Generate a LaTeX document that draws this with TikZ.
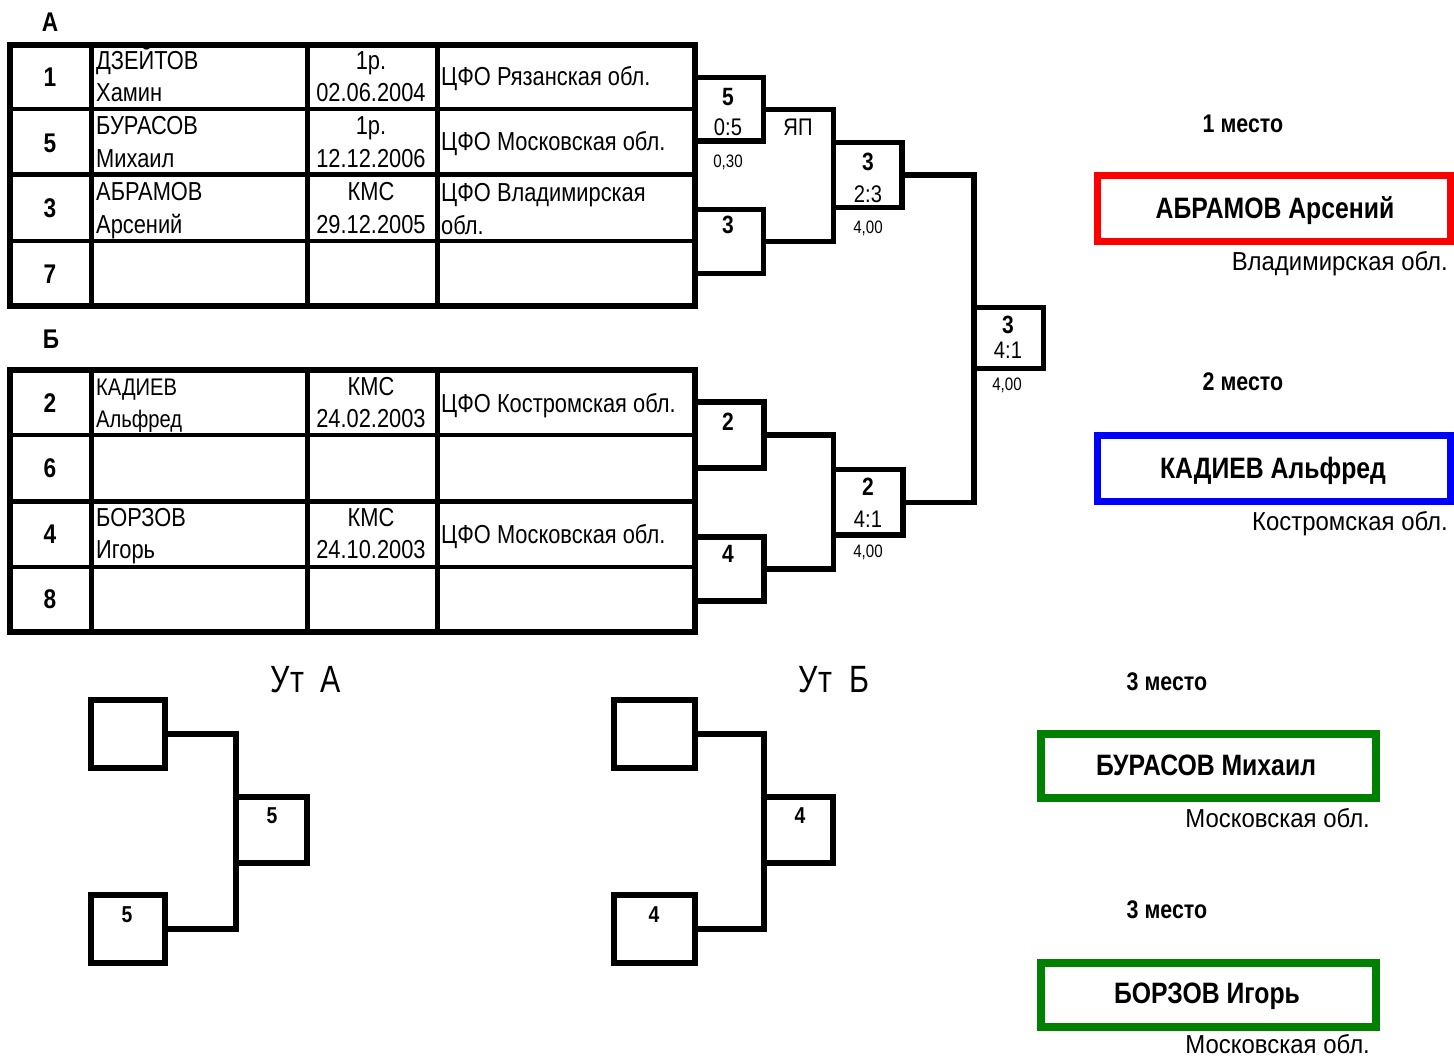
\documentclass[tikz,border=0pt]{standalone}
\usepackage{fontspec}
\setmainfont[FakeStretch=0.84]{Liberation Sans}
\newfontfamily\regfont[FakeStretch=0.92]{Liberation Sans}
\newfontfamily\utfont[FakeStretch=0.8]{Liberation Sans}
\newcommand\myfs[1]{\fontsize{#1}{#1}\selectfont}
\newcommand\bx[6][]{\node[bxs,#1,anchor=north west,minimum width={(#5)-(#3)},minimum height={(#6)-(#4)}] (#2) at (#3,#4) {};}
\definecolor{mygreen}{RGB}{0,128,0}
\begin{document}
\begin{tikzpicture}[x=1pt,y=-1pt,
  bxs/.style={draw,line width=5.5pt,inner sep=0,outer sep=0},
  con/.style={draw,line width=5.5pt,line cap=rect},
  tout/.style={line width=6pt,line join=miter},
  tin/.style={line width=5pt},
  thin/.style={line width=4pt},
  t/.style={inner sep=0,font=\myfs{26}},
  tl/.style={t,anchor=base west},
  tc/.style={t,anchor=base},
  tn/.style={inner sep=0,anchor=base,font=\bfseries\myfs{27}},
  bn/.style={inner sep=0,anchor=base,font=\bfseries\myfs{25}},
  sc/.style={inner sep=0,anchor=base,font=\myfs{24}},
  sm/.style={inner sep=0,anchor=base,font=\myfs{18}},
  pl/.style={inner sep=0,anchor=base,font=\bfseries\myfs{23}},
  plc/.style={inner sep=0,anchor=base,font=\bfseries\myfs{25.5}},
  win/.style={inner sep=0,anchor=base,font=\bfseries\myfs{29.5}},
  reg/.style={inner sep=0,anchor=base east,font=\regfont\myfs{26}},
  ut/.style={inner sep=0,anchor=base,font=\utfont\myfs{38}}
]
\useasboundingbox (0,0) rectangle (1454,1057);

% ---------- Group A table ----------
\node[inner sep=0,anchor=base,font=\bfseries\myfs{27}] (lblA) at (50,32) {А};
\draw[tout] (10,45) rectangle (694.5,305.5);
\foreach \xx in {91.5,307,437} \draw[tin] (\xx,45) -- (\xx,305.5);
\draw[thin] (10,108.5) -- (694.5,108.5);
\draw[tin] (10,174.5) -- (694.5,174.5);
\draw[thin] (10,240.5) -- (694.5,240.5);

\node[tn] (an1) at (50,87) {1};
\node[tl] (aname1) at (96,70) {ДЗЕЙТОВ};
\node[tl] (afirst1) at (96,102) {Хамин};
\node[tc] (arank1) at (371,70) {1р.};
\node[tc] (adate1) at (371,102) {02.06.2004};
\node[tl] (areg1) at (441,85) {ЦФО Рязанская обл.};

\node[tn] (an2) at (50,152) {5};
\node[tl] (aname2) at (96,134) {БУРАСОВ};
\node[tl] (afirst2) at (96,167) {Михаил};
\node[tc] (arank2) at (371,134) {1р.};
\node[tc] (adate2) at (371,167) {12.12.2006};
\node[tl] (areg2) at (441,150) {ЦФО Московская обл.};

\node[tn] (an3) at (50,217) {3};
\node[tl] (aname3) at (96,200) {АБРАМОВ};
\node[tl] (afirst3) at (96,233) {Арсений};
\node[tc] (arank3) at (371,200) {КМС};
\node[tc] (adate3) at (371,233) {29.12.2005};
\node[tl] (areg3) at (441,201) {ЦФО Владимирская};
\node[tl] (areg3b) at (441,234) {обл.};

\node[tn] (an4) at (50,283) {7};

% ---------- Group B table ----------
\node[inner sep=0,anchor=base,font=\bfseries\myfs{27}] (lblB) at (51,348) {Б};
\draw[tout] (10,369.5) rectangle (694.5,632);
\foreach \xx in {91.5,307,437} \draw[tin] (\xx,369.5) -- (\xx,632);
\draw[thin] (10,435) -- (694.5,435);
\draw[tin] (10,501.5) -- (694.5,501.5);
\draw[thin] (10,567) -- (694.5,567);

\node[tn] (bn1) at (50,412) {2};
\node[tl,font=\myfs{24}] (bname1) at (96,395) {КАДИЕВ};
\node[tl,font=\myfs{24}] (bfirst1) at (96,427) {Альфред};
\node[tc] (brank1) at (371,395) {КМС};
\node[tc] (bdate1) at (371,427) {24.02.2003};
\node[tl] (breg1) at (441,412) {ЦФО Костромская обл.};

\node[tn] (bn2) at (50,477) {6};

\node[tn] (bn3) at (50,543) {4};
\node[tl] (bname3) at (96,526) {БОРЗОВ};
\node[tl] (bfirst3) at (96,558) {Игорь};
\node[tc] (brank3) at (371,526) {КМС};
\node[tc] (bdate3) at (371,558) {24.10.2003};
\node[tl] (breg3) at (441,543) {ЦФО Московская обл.};

\node[tn] (bn4) at (50,608) {8};

% ---------- bracket A ----------
\bx{a1}{694.5}{77.5}{763.5}{141}
\bx{a2}{694.5}{209.5}{763.5}{273.5}
\bx{ar}{833.5}{142.5}{902}{207.5}
\draw[con] (a1.east) -- (a1.east -| ar.west) -- (a2.east -| ar.west) -- (a2.east);
\node[bn] (a1w) at (728,105) {5};
\node[sc] (a1s) at (728,135) {0:5};
\node[sm] (a1t) at (728,167) {0,30};
\node[sc] (a1y) at (798,135) {ЯП};
\node[bn] (a2w) at (728,233) {3};
\node[bn] (arw) at (868,170) {3};
\node[sc] (ars) at (868,202) {2:3};
\node[sm] (art) at (868,233) {4,00};

% ---------- bracket B ----------
\bx{b1}{694.5}{402}{764}{468}
\bx{b2}{694.5}{537}{764}{601}
\bx{br}{833.5}{469.5}{903}{535}
\draw[con] (b1.east) -- (b1.east -| br.west) -- (b2.east -| br.west) -- (b2.east);
\node[bn] (b1w) at (728,430) {2};
\node[bn] (b2w) at (728,562) {4};
\node[bn] (brw) at (868,495) {2};
\node[sc] (brs) at (868,527) {4:1};
\node[sm] (brt) at (868,557) {4,00};

% ---------- final ----------
\bx{fin}{974}{307.5}{1043.5}{368.5}
\draw[con] (ar.east) -- (ar.east -| fin.west) -- (br.east -| fin.west) -- (br.east);
\node[bn] (finw) at (1008,333) {3};
\node[sc] (fins) at (1008,358) {4:1};
\node[sm] (fint) at (1007,390) {4,00};

% ---------- repechage ----------
\node[ut] (utA) at (306,692) {Ут\ \ А};
\bx{la}{91}{700}{165}{768}
\bx{lb}{91}{895}{165}{963}
\bx{lm}{236}{797}{307}{863}
\draw[con] (la.east) -- (la.east -| lm.west) -- (lb.east -| lm.west) -- (lb.east);
\node[pl] (lmw) at (272,823) {5};
\node[pl] (lbw) at (127,922) {5};

\node[ut] (utB) at (834,692) {Ут\ \ Б};
\bx{ra}{614}{700}{695}{768}
\bx{rb}{614}{895}{695}{963}
\bx{rm}{764}{797}{833}{863}
\draw[con] (ra.east) -- (ra.east -| rm.west) -- (rb.east -| rm.west) -- (rb.east);
\node[pl] (rmw) at (800,823) {4};
\node[pl] (rbw) at (654,922) {4};

% ---------- places ----------
\node[plc] (p1) at (1243,132) {1 место};
\bx[draw=red,line width=7pt]{w1}{1097.5}{175.5}{1450.5}{241.5}
\node[win] (w1n) at (1275,218) {АБРАМОВ Арсений};
\node[reg] (w1r) at (1448,270) {Владимирская обл.};

\node[plc] (p2) at (1243,390) {2 место};
\bx[draw=blue,line width=7pt]{w2}{1097.5}{435.5}{1450.5}{501.5}
\node[win] (w2n) at (1273,478) {КАДИЕВ Альфред};
\node[reg] (w2r) at (1448,530) {Костромская обл.};

\node[plc] (p3) at (1167,690) {3 место};
\bx[draw=mygreen,line width=8pt]{w3}{1041}{734}{1376}{798}
\node[win] (w3n) at (1206,775) {БУРАСОВ Михаил};
\node[reg] (w3r) at (1370,827) {Московская обл.};

\node[plc] (p4) at (1167,918) {3 место};
\bx[draw=mygreen,line width=8pt]{w4}{1041}{963}{1376}{1027}
\node[win] (w4n) at (1207,1003) {БОРЗОВ Игорь};
\node[reg] (w4r) at (1370,1053) {Московская обл.};
\end{tikzpicture}
\end{document}
